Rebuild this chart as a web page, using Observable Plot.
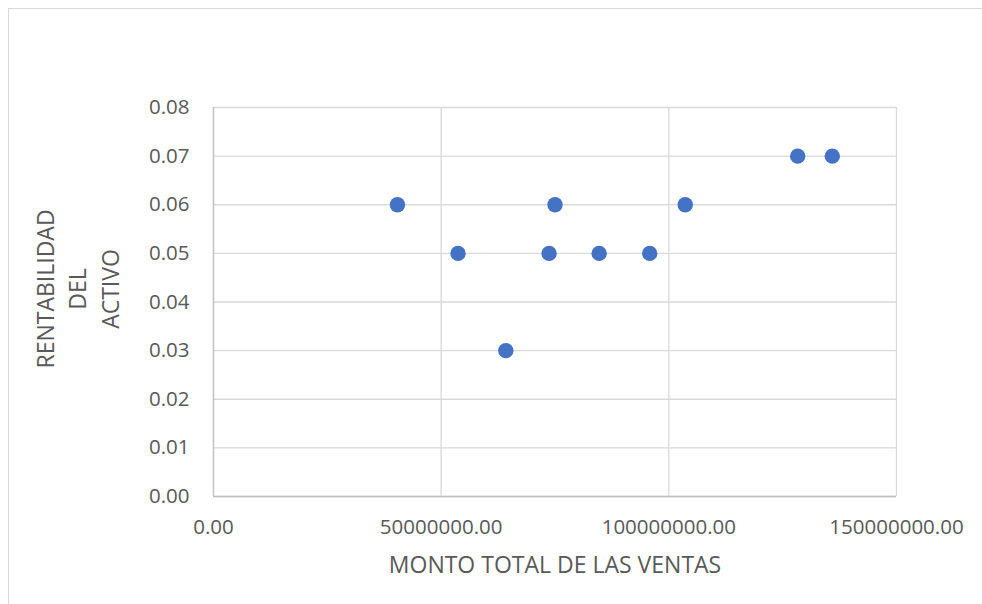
<!DOCTYPE html>
<html>
<head>
<meta charset="utf-8">
<script src="https://cdn.jsdelivr.net/npm/d3@7"></script>
<script src="https://cdn.jsdelivr.net/npm/@observablehq/plot@0.6"></script>
<style>
  html, body { margin: 0; padding: 0; background: #fff; overflow: hidden; }
  #frame { position: absolute; left: 8px; top: 8px; width: 2000px; height: 2000px; border: 1px solid #d9d9d9; box-sizing: border-box; }
  #chart { position: absolute; left: 0; top: 0; }
</style>
</head>
<body>
<div id="frame"></div>
<div id="chart"></div>
<script>
// Data
const ventas = [40.4e6, 53.7e6, 64.2e6, 73.7e6, 75.0e6, 84.7e6, 95.8e6, 103.6e6, 128.3e6, 135.9e6];
const rentabilidad = [0.06, 0.05, 0.03, 0.05, 0.06, 0.05, 0.05, 0.06, 0.07, 0.07];
const xTicks = [0, 50000000, 100000000, 150000000];
const yTicks = [0, 0.01, 0.02, 0.03, 0.04, 0.05, 0.06, 0.07, 0.08];
const xTitle = "MONTO TOTAL DE LAS VENTAS";
const yTitle = "RENTABILIDAD\nDEL\nACTIVO";

const data = ventas.map((v, i) => ({ventas: v, rentabilidad: rentabilidad[i]}));
const fmt = d3.format(".2f");

const chart = Plot.plot({
  width: 982,
  height: 604,
  marginLeft: 213,
  marginRight: 86,
  marginTop: 107,
  marginBottom: 108,
  style: { fontFamily: "'Open Sans', sans-serif", color: "#595959", background: "transparent", overflow: "visible" },
  x: { domain: [0, 150000000] },
  y: { domain: [0, 0.08] },
  marks: [
    Plot.gridX(xTicks, { stroke: "#d9d9d9", strokeOpacity: 1, strokeWidth: 1.3 }),
    Plot.gridY(yTicks, { stroke: "#d9d9d9", strokeOpacity: 1, strokeWidth: 1.3 }),
    Plot.ruleX([0], { stroke: "#bfbfbf", strokeWidth: 1.3 }),
    Plot.ruleY([0], { stroke: "#bfbfbf", strokeWidth: 1.3 }),
    Plot.axisX(xTicks, { tickSize: 0, tickPadding: 23, tickFormat: fmt, label: null, fontSize: 20.5, fill: "#595959" }),
    Plot.axisY(yTicks, { tickSize: 0, tickPadding: 24, tickFormat: fmt, label: null, fontSize: 20.5, fill: "#595959" }),
    Plot.dot(data, { x: "ventas", y: "rentabilidad", r: 7.7, fill: "#4472C4", stroke: null }),
    Plot.text([xTitle], { frameAnchor: "bottom", dy: 69, lineAnchor: "middle", fontSize: 23, fill: "#595959" }),
    Plot.text([yTitle], { frameAnchor: "left", textAnchor: "middle", dx: -137.5, dy: -13, rotate: -90, lineAnchor: "middle", lineHeight: 1.41, fontSize: 23, fill: "#595959" })
  ]
});
document.getElementById("chart").appendChild(chart);
</script>
</body>
</html>
